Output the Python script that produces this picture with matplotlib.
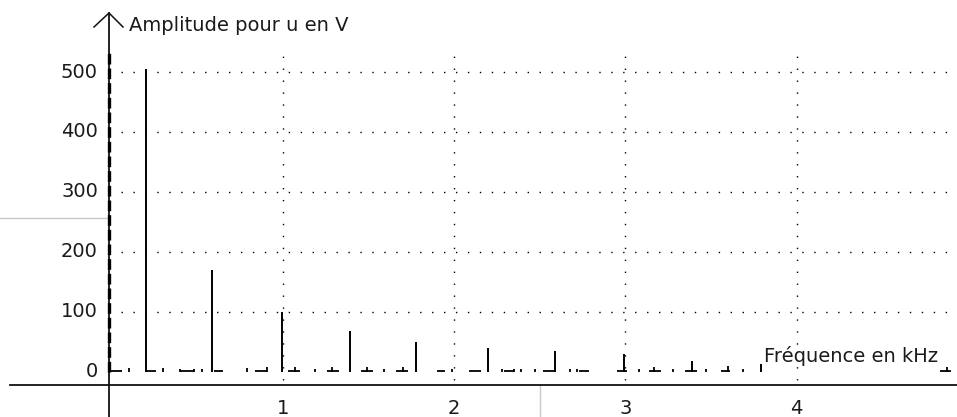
import matplotlib
matplotlib.use("Agg")
import matplotlib.pyplot as plt

# ---- data ----
harm_freq = [0.2, 0.59, 0.995, 1.39, 1.78, 2.2, 2.59, 2.99, 3.39, 3.79]
harm_amp = [505, 169, 99, 67, 50, 39, 34, 30, 17, 13]

small_freq = [0.1, 0.3, 0.4, 0.48, 0.53, 0.79, 0.91, 1.07, 1.19, 1.29, 1.49, 1.59,
              1.70, 1.99, 2.28, 2.35, 2.39, 2.47, 2.68, 2.72, 3.08, 3.17, 3.28,
              3.47, 3.6, 3.69, 4.88]
small_amp = [6, 6, 5, 5, 5, 6, 7, 8, 5, 8, 8, 5, 8, 5, 5, 5, 5, 5, 5, 5, 5, 8, 5,
             5, 9, 5, 7]

floor_start = [0.0, 0.2, 0.4, 0.6, 0.84, 1.03, 1.26, 1.46, 1.66, 1.9, 2.09, 2.29,
               2.52, 2.73, 2.95, 3.14, 3.35, 3.56, 4.84]
floor_end = [0.06, 0.26, 0.48, 0.65, 0.91, 1.1, 1.33, 1.53, 1.73, 1.95, 2.16, 2.35,
             2.59, 2.79, 3.01, 3.21, 3.42, 3.61, 4.9]

y_ticks = [0, 100, 200, 300, 400, 500]
x_ticks = [1, 2, 3, 4]
y_grid = [100, 200, 300, 400, 500]
x_grid = [1, 2, 3, 4]

# ---- figure: axes fill the whole canvas ----
W, H = 957, 417
fig = plt.figure(figsize=(W / 100, H / 100), dpi=100)
ax = fig.add_axes([0, 0, 1, 1])
ax.set_axis_off()

x0px, kx = 111.4, 171.3      # pixel of f=0, px per kHz
y0px, ky = 371.5, 0.599      # pixel of A=0, px per V
ax.set_xlim(-x0px / kx, (W - x0px) / kx)
ax.set_ylim((y0px - H) / ky, y0px / ky)

def fx(px):
    return (px - x0px) / kx

def fy(py):
    return (y0px - py) / ky

FS = 14
TXT = "#1a1a1a"
dot = (0, (1, 7.6))

# grid (dotted)
ax.hlines(y_grid, fx(121), fx(W), colors="#000000", lw=1.0, linestyles=[dot])
ax.vlines(x_grid, fy(380), fy(53), colors="#000000", lw=1.0, linestyles=[dot])

# decorative light grey lines
ax.plot([fx(0), fx(109)], [fy(218), fy(218)], color="#c8c8c8", lw=1)
ax.plot([fx(540), fx(540)], [fy(385), fy(417)], color="#c8c8c8", lw=1)

# axes lines
ax.plot([fx(10), fx(W)], [fy(385), fy(385)], color="#111111", lw=1.3, zorder=5)
ax.plot([fx(109), fx(109)], [fy(417), fy(13)], color="#111111", lw=1.3, zorder=5)
ax.plot([fx(94), fx(109), fx(123)], [fy(27), fy(13), fy(27)], color="#111111",
        lw=1.1, zorder=5)
# thick dashed overlay on the amplitude axis
ax.plot([fx(109), fx(109)], [fy(372), fy(53)], color="black", lw=2.4,
        linestyle=(0, (3.2, 1.2)), zorder=6)

# spectrum
ax.vlines(harm_freq, 0, harm_amp, colors="black", lw=1.4, zorder=4)
ax.vlines(small_freq, 0, small_amp, colors="black", lw=1.3, zorder=4)
ax.hlines([1.5] * len(floor_start), floor_start, floor_end, colors="black", lw=1.3,
          zorder=4)

# tick labels
for v in y_ticks:
    ax.text(fx(98), v, str(v), ha="right", va="center", fontsize=FS, color=TXT)
for v in x_ticks:
    ax.text(v, fy(408), str(v), ha="center", va="center", fontsize=FS, color=TXT)

# axis titles
ax.text(fx(129), fy(25), "Amplitude pour u en V", ha="left", va="center",
        fontsize=FS, color=TXT, zorder=7)
ax.text(fx(764), fy(356), "Fréquence en kHz", ha="left", va="center",
        fontsize=FS, color=TXT, zorder=7,
        bbox=dict(boxstyle="square,pad=0.05", fc="white", ec="none"))

fig.savefig("out.png", dpi=100)
